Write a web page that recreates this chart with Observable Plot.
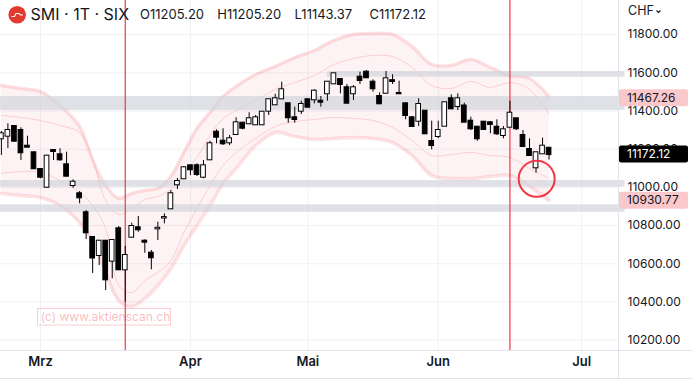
<!DOCTYPE html>
<html><head><meta charset="utf-8">
<script src="https://cdn.jsdelivr.net/npm/d3@7"></script>
<script src="https://cdn.jsdelivr.net/npm/@observablehq/plot@0.6"></script>
<style>
html,body{margin:0;padding:0;background:#fff;}
#chart{width:692px;height:379px;overflow:hidden;}
</style></head><body>
<div id="chart"></div>
<script>
// ---- data ----
const dates = ["02-21","02-22","02-23","02-24","02-27","02-28",
"03-01","03-02","03-03","03-06","03-07","03-08","03-09","03-10","03-13","03-14","03-15","03-16","03-17","03-20","03-21","03-22","03-23","03-24","03-27","03-28","03-29","03-30","03-31",
"04-03","04-04","04-05","04-06","04-11","04-12","04-13","04-14","04-17","04-18","04-19","04-20","04-21","04-24","04-25","04-26","04-27","04-28",
"05-02","05-03","05-04","05-05","05-08","05-09","05-10","05-11","05-12","05-15","05-16","05-17","05-19","05-22","05-23","05-24","05-25","05-26","05-30","05-31",
"06-01","06-02","06-05","06-06","06-07","06-08","06-09","06-12","06-13","06-14","06-15","06-16","06-19","06-20","06-21","06-22","06-23","06-26"];
const firstDay = -6; // index of first date relative to 1 March
const open = [11254.6,11268.2,11319.0,11298.0,11215.8,11181.3,11093.8,11001.1,11193.3,11170.8,11118.4,11010.0,10966.6,10867.1,10737.8,10643.5,10718.4,10613.7,10783.3,10568.6,10739.3,10788.6,10718.4,10655.6,10783.0,10839.9,10888.0,11013.7,11045.1,11113.2,11113.2,11053.5,11144.6,11289.1,11242.0,11233.6,11277.1,11336.2,11333.1,11327.9,11327.9,11399.1,11432.6,11464.0,11437.8,11364.5,11399.1,11458.8,11458.8,11451.4,11490.2,11542.5,11565.1,11521.6,11490.2,11577.1,11603.3,11550.9,11476.0,11493.3,11558.8,11492.0,11437.8,11364.5,11346.7,11399.1,11240.4,11266.6,11320.5,11464.0,11423.7,11426.3,11346.7,11315.3,11341.5,11338.3,11315.3,11271.8,11315.3,11359.3,11271.8,11198.5,11102.7,11176.0,11205.20];
const high = [11292.8,11333.1,11324.2,11312.2,11268.2,11183.0,11096.0,11167.0,11195.0,11202.2,11184.4,11039.9,10978.6,10879.1,10740.0,10722.0,10722.0,10724.0,10795.4,10690.6,10812.6,10847.7,10725.7,10669.7,10817.9,10861.9,10983.9,11046.7,11109.5,11115.0,11123.7,11140.9,11242.0,11301.7,11306.9,11271.8,11364.5,11341.4,11390.7,11376.6,11396.0,11461.0,11487.6,11550.9,11440.0,11420.0,11451.4,11461.0,11511.1,11476.0,11553.0,11598.0,11567.0,11538.9,11533.6,11603.3,11612.2,11563.5,11495.4,11606.9,11589.7,11556.1,11440.0,11371.3,11464.0,11401.0,11346.7,11346.7,11445.0,11485.0,11490.2,11441.0,11367.7,11317.0,11343.0,11345.1,11354.1,11319.0,11451.4,11362.0,11298.0,11254.6,11183.0,11257.7,11205.20];
const low = [11167.1,11203.8,11237.8,11140.9,11208.0,11093.8,11045.1,10995.9,11140.9,11137.3,11057.0,10995.9,10914.2,10727.3,10549.3,10591.2,10460.3,10521.5,10566.0,10399.0,10737.0,10765.5,10655.6,10568.6,10722.1,10809.5,10886.0,10989.1,11043.0,11062.4,11057.2,11045.1,11143.0,11228.4,11219.5,11219.5,11271.8,11301.7,11330.0,11326.0,11326.0,11376.6,11430.0,11462.0,11336.2,11336.2,11381.8,11418.0,11437.8,11420.0,11451.4,11540.0,11490.2,11439.0,11455.1,11538.9,11572.0,11498.6,11436.0,11490.2,11538.9,11489.0,11354.1,11315.0,11319.0,11279.0,11197.0,11254.6,11319.0,11410.0,11402.7,11340.0,11298.0,11242.0,11301.0,11280.7,11271.8,11254.6,11313.0,11298.0,11212.0,11165.0,11074.4,11174.0,11143.37];
const close = [11280.7,11298.0,11242.0,11181.3,11210.6,11097.5,11053.5,11163.5,11188.1,11144.6,11058.7,11027.3,10945.6,10762.4,10630.4,10718.4,10516.3,10722.0,10568.6,10643.5,10795.4,10778.1,10713.2,10631.5,10786.0,10842.0,10966.6,11031.0,11102.7,11092.2,11067.6,11113.2,11228.4,11262.9,11228.4,11254.6,11338.3,11310.1,11359.3,11364.5,11393.8,11458.8,11464.0,11511.1,11364.5,11355.6,11434.2,11420.0,11503.8,11446.2,11550.9,11594.9,11538.9,11441.0,11521.6,11559.8,11574.0,11516.4,11437.8,11568.7,11554.6,11490.2,11376.6,11319.0,11434.2,11280.7,11219.5,11298.0,11443.1,11411.6,11464.0,11341.5,11306.9,11254.6,11303.3,11329.4,11280.7,11301.7,11388.6,11306.9,11214.2,11167.1,11181.3,11215.8,11172.12];

// envelope bands (read at sample days)
const bandDays   = [-6,-3,0,3,6,8,10,12,14,16,18,20,22,24,26,28,30,33,36,39,42,45,48,51,54,57,60,63,66,69,72,75,78];
const upperOuter = [11533.6,11517.9,11502.2,11428.9,11319.0,11140.9,11010.0,10942.0,10968.2,10983.9,10994.3,11057.2,11182.8,11308.5,11392.3,11476.0,11528.4,11591.2,11633.1,11680.2,11716.9,11769.3,11800.7,11805.9,11800.7,11737.8,11643.6,11638.4,11669.8,11627.9,11586.0,11570.3,11476.0];
const upperInner = [11376.6,11366.1,11350.4,11324.2,11287.5,11151.4,10931.5,10858.2,10889.6,10936.7,10952.4,10989.1,11078.1,11156.6,11271.8,11360.9,11402.7,11455.1,11512.7,11549.3,11586.0,11643.6,11675.0,11690.7,11685.5,11627.9,11533.6,11517.9,11554.6,11523.2,11549.3,11512.7,11381.8];
const lowerInner = [11072.9,11083.3,11078.1,11036.2,10973.4,10905.3,10784.9,10486.4,10449.8,10512.6,10554.5,10617.3,10763.9,10889.6,11010.0,11114.8,11182.8,11256.1,11319.0,11345.1,11355.6,11366.1,11360.9,11350.4,11313.7,11245.7,11167.1,11172.4,11182.8,11167.1,11156.6,11099.1,11046.7];
const lowerOuter = [10968.2,10957.7,10947.2,10905.3,10816.3,10722.1,10554.5,10407.9,10376.5,10418.4,10486.4,10575.5,10695.9,10800.6,10905.3,11020.5,11099.1,11219.5,11287.5,11266.6,11250.9,11256.1,11261.4,11256.1,11235.2,11167.1,11062.4,11046.7,11046.7,11057.2,11062.4,11004.8,10931.5];

// horizontal zones
const zoneFrom = [44, -7, -7, -7];
const zoneLow  = [11577, 11403, 11001, 10870];
const zoneHigh = [11607, 11476, 11036, 10909];

const markerDays = [13, 72];            // red vertical lines
const circleSpot = [{day: 76.1, price: 11045}];
const priceTicks = [10200,10400,10600,10800,11000,11200,11400,11600,11800];
const monthTicks = [0, 23, 41, 61, 83];
const monthLabels = ["Mrz","Apr","Mai","Jun","Jul"];
const tagPrices = [11467.26, 11172.12, 10930.77];
const tagFill   = ["#fac8cb", "#000000", "#fac8cb"];
const tagText   = ["#131722", "#ffffff", "#131722"];
const title = "SMI · 1T · SIX";
const ohlcLabels = ["O","H","L","C"];
const ohlcValues = ["11205.20","11205.20","11143.37","11172.12"];
const watermark = "(c) www.aktienscan.ch";

// ---- build ----
const candles = dates.map((d, k) => ({day: k + firstDay, date: d, o: open[k], h: high[k], l: low[k], c: close[k]}));
const bands = bandDays.map((d, k) => ({day: d, uo: upperOuter[k], ui: upperInner[k], li: lowerInner[k], lo: lowerOuter[k]}));
const xMax = 88.65;
const zones = zoneLow.map((v, k) => ({x1: zoneFrom[k], x2: xMax + 1, y1: v, y2: zoneHigh[k]}));
const up = candles.filter(d => d.c >= d.o);
const down = candles.filter(d => d.c < d.o);
const hw = 0.36;
const curve = "catmull-rom";
const red = "#f23645";

const plot = Plot.plot({
  width: 692, height: 379,
  marginTop: 0, marginBottom: 29, marginLeft: 0, marginRight: 74,
  x: {type: "linear", domain: [-6.135, xMax], axis: null},
  y: {domain: [10146.1, 11978.7], axis: null},
  style: {background: "#fff", fontFamily: "Inter, 'Noto Sans', sans-serif", overflow: "visible"},
  marks: [
    Plot.ruleY(priceTicks, {stroke: "#f0f1f4", strokeWidth: 1}),
    Plot.ruleX(monthTicks, {stroke: "#f0f1f4", strokeWidth: 1}),
    Plot.areaY(bands, {x: "day", y1: "lo", y2: "uo", fill: red, fillOpacity: 0.06, curve}),
    Plot.line(bands, {x: "day", y: "uo", stroke: red, strokeOpacity: 0.15, strokeWidth: 3.5, curve}),
    Plot.line(bands, {x: "day", y: "lo", stroke: red, strokeOpacity: 0.15, strokeWidth: 3.5, curve}),
    Plot.line(bands, {x: "day", y: "ui", stroke: red, strokeOpacity: 0.2, strokeWidth: 1, curve}),
    Plot.line(bands, {x: "day", y: "li", stroke: red, strokeOpacity: 0.2, strokeWidth: 1, curve}),
    Plot.rect(zones, {x1: "x1", x2: "x2", y1: "y1", y2: "y2", fill: "#d1d4dc", fillOpacity: 0.7}),
    Plot.ruleX(markerDays, {x: d => d, stroke: red, strokeOpacity: 1, strokeWidth: 1.2}),
    Plot.ruleX(candles, {x: "day", y1: "l", y2: "h", stroke: "#000", strokeWidth: 1}),
    Plot.rect(down, {x1: d => d.day - hw, x2: d => d.day + hw, y1: "o", y2: "c", fill: "#000", stroke: "#000", strokeWidth: 1, insetTop: -0.5, insetBottom: -0.5}),
    Plot.rect(up, {x1: d => d.day - hw, x2: d => d.day + hw, y1: "o", y2: "c", fill: "#fff", stroke: "#000", strokeWidth: 1, insetTop: -0.5, insetBottom: -0.5}),
    Plot.dot(circleSpot, {x: "day", y: "price", r: 18, fill: "none", stroke: red, strokeWidth: 2}),
    Plot.text(priceTicks, {y: d => d, text: d => d.toFixed(2), frameAnchor: "right", dx: 9, textAnchor: "start", fontSize: 12, fill: "#131722"}),
    Plot.text(monthTicks, {x: d => d, text: (d, i) => monthLabels[i], frameAnchor: "bottom", dy: 15, fontSize: 13, fontWeight: 600, fill: "#131722"})
  ]
});
document.getElementById("chart").appendChild(plot);

const ys = plot.scale("y");
const Y = d3.scaleLinear(ys.domain, ys.range);
const svg = d3.select(plot);

// axis frame lines
svg.append("line").attr("x1", 0).attr("x2", 692).attr("y1", 350.5).attr("y2", 350.5).attr("stroke", "#e0e3eb");
svg.append("line").attr("x1", 618.5).attr("x2", 618.5).attr("y1", 0).attr("y2", 379).attr("stroke", "#e0e3eb");
svg.append("line").attr("x1", 0).attr("x2", 692).attr("y1", 378.5).attr("y2", 378.5).attr("stroke", "#e0e3eb");

// price tags
tagPrices.forEach((p, k) => {
  const y = Y(p);
  svg.append("rect").attr("x", 619).attr("y", y - 8.5).attr("width", 69).attr("height", 17).attr("rx", 2).attr("fill", tagFill[k]);
  svg.append("text").attr("x", 627).attr("y", y).attr("dy", "0.35em").attr("text-anchor", "start").attr("font-size", 12).attr("fill", tagText[k]).text(p.toFixed(2));
});

// currency label
svg.append("text").attr("x", 628).attr("y", 15).attr("text-anchor", "start").attr("font-size", 12.5).attr("fill", "#131722").text("CHF");
svg.append("path").attr("d", "M656.5 10.5 l2 2 l2 -2").attr("fill", "none").attr("stroke", "#131722").attr("stroke-width", 1.1);

// header
const hdr = svg.append("g").attr("text-anchor", "start");
hdr.append("circle").attr("cx", 17.2).attr("cy", 14.7).attr("r", 8.8).attr("fill", "#e23a2f");
hdr.append("path").attr("d", "M11.5 16.5 h3 l1.5 -3 h3 l1.5 1.5 h2.5").attr("fill", "none").attr("stroke", "#fff").attr("stroke-width", 1.1);
hdr.append("text").attr("x", 30.5).attr("y", 19.5).attr("font-size", 16).attr("fill", "#131722").text(title);
const ohlcX = [140, 217.3, 294.6, 369.5];
ohlcLabels.forEach((l, k) => {
  hdr.append("text").attr("x", ohlcX[k]).attr("y", 19.3).attr("font-size", 13).attr("fill", "#131722").text(l + ohlcValues[k]);
});

// watermark
svg.append("rect").attr("x", 37.5).attr("y", 308.5).attr("width", 133).attr("height", 16.5).attr("fill", "none").attr("stroke", red).attr("stroke-opacity", 0.25);
svg.append("text").attr("x", 40.7).attr("y", 321).attr("text-anchor", "start").attr("font-size", 12).attr("fill", red).attr("fill-opacity", 0.35).text(watermark);
</script>
</body></html>
